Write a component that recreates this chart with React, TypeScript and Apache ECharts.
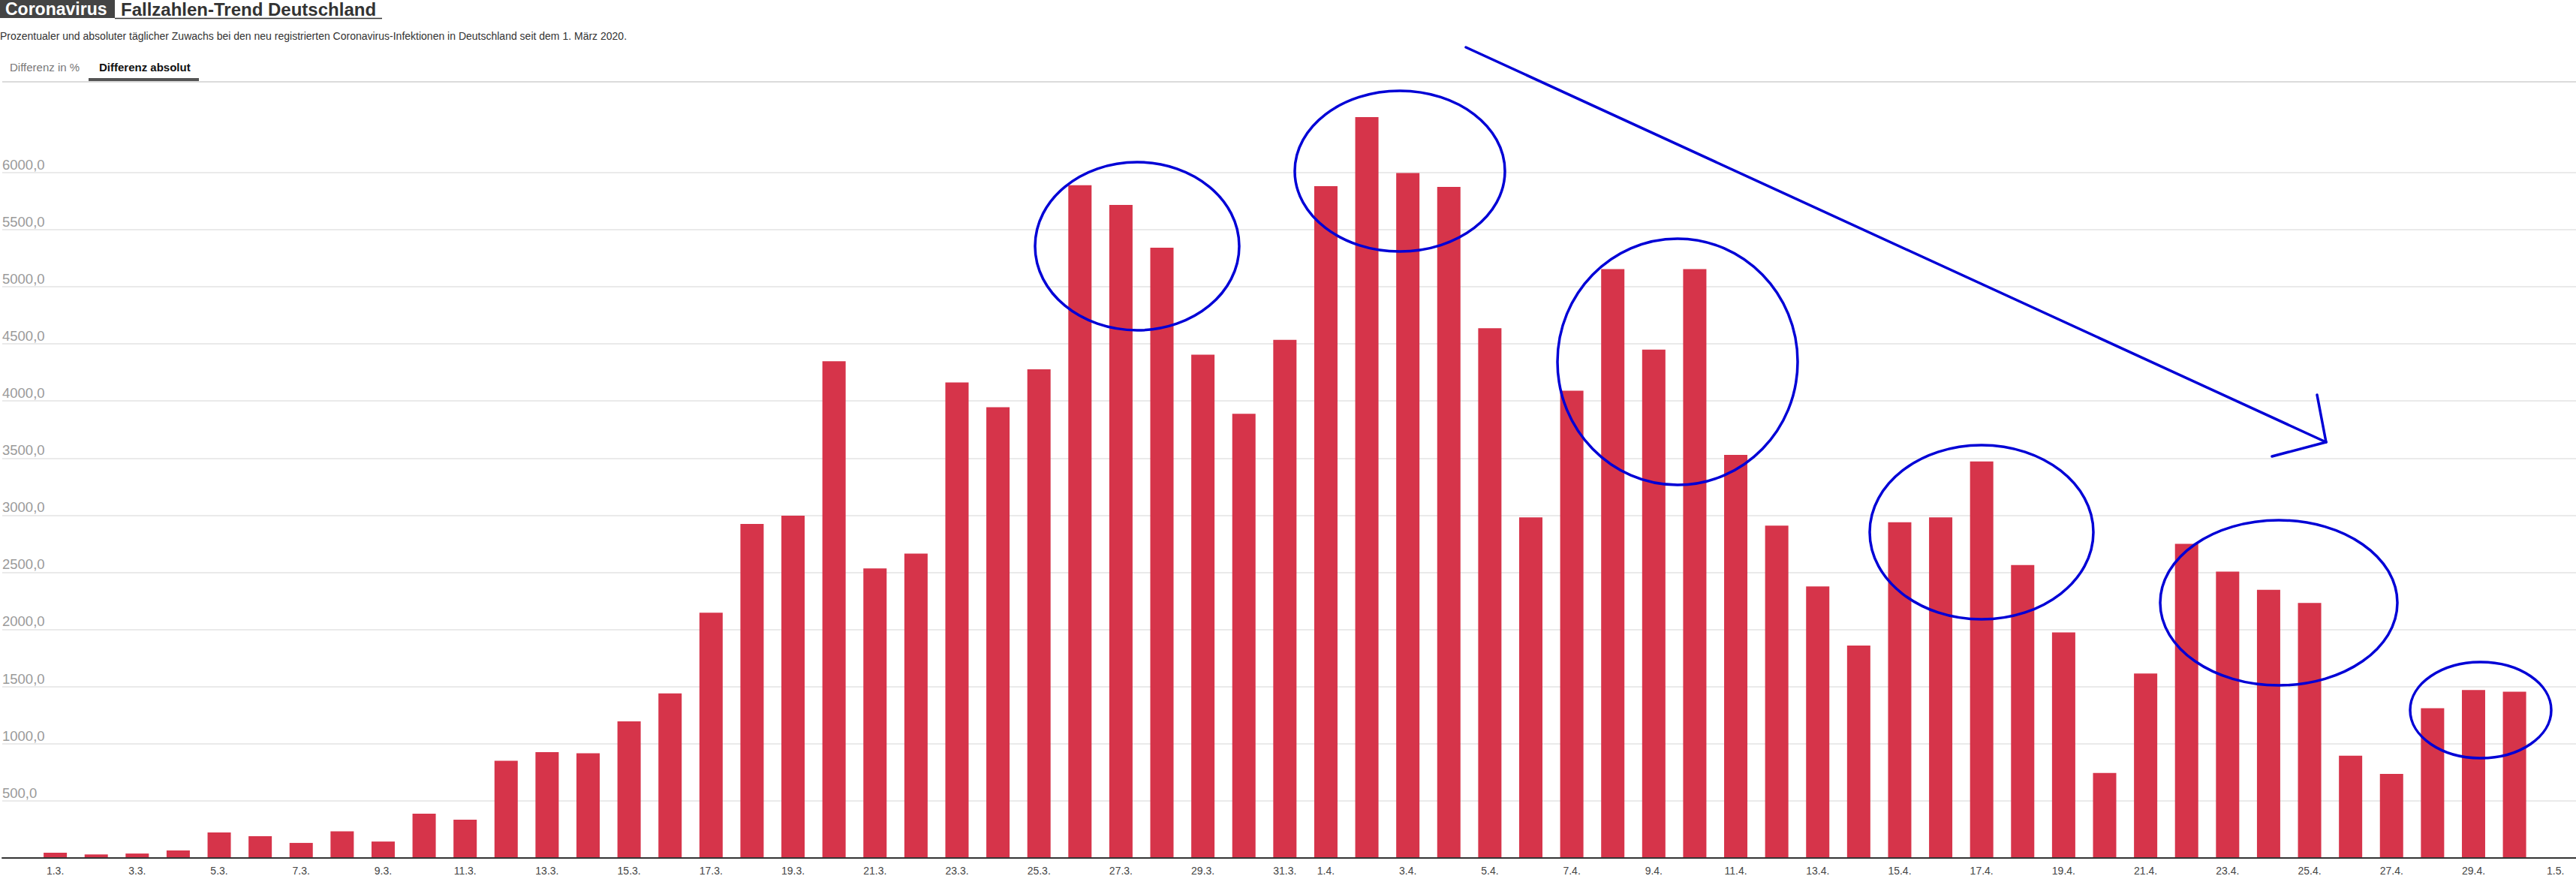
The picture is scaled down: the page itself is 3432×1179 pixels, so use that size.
import React, { useEffect, useRef } from "react";
import * as echarts from "echarts";

const categories = [
  "1.3.", "2.3.", "3.3.", "4.3.", "5.3.", "6.3.", "7.3.", "8.3.", "9.3.", "10.3.",
  "11.3.", "12.3.", "13.3.", "14.3.", "15.3.", "16.3.", "17.3.", "18.3.", "19.3.", "20.3.",
  "21.3.", "22.3.", "23.3.", "24.3.", "25.3.", "26.3.", "27.3.", "28.3.", "29.3.", "30.3.", "31.3.",
  "1.4.", "2.4.", "3.4.", "4.4.", "5.4.", "6.4.", "7.4.", "8.4.", "9.4.", "10.4.",
  "11.4.", "12.4.", "13.4.", "14.4.", "15.4.", "16.4.", "17.4.", "18.4.", "19.4.", "20.4.",
  "21.4.", "22.4.", "23.4.", "24.4.", "25.4.", "26.4.", "27.4.", "28.4.", "29.4.", "30.4.",
  "1.5.",
];

const dailyIncrease = [
  44, 29, 37, 64, 222, 189, 130, 232, 142, 386,
  333, 850, 925, 915, 1195, 1440, 2146, 2923, 2995, 4349,
  2534, 2664, 4162, 3946, 4277, 5890, 5717, 5342, 4406, 3888, 4536,
  5882, 6486, 5996, 5875, 4637, 2981, 4090, 5155, 4450, 5155,
  3528, 2909, 2376, 1858, 2938, 2981, 3470, 2563, 1973, 742,
  1613, 2750, 2506, 2347, 2232, 893, 734, 1310, 1469, 1454,
  null,
];

const yMin = 0;
const yMax = 6800;
const yInterval = 500;
const yLabelMax = 6000;

const titleTag = "Coronavirus";
const titleText = "Fallzahlen-Trend Deutschland";
const subtitleText =
  "Prozentualer und absoluter täglicher Zuwachs bei den neu registrierten Coronavirus-Infektionen in Deutschland seit dem 1. März 2020.";
const tabInactive = "Differenz in %";
const tabActive = "Differenz absolut";

// annotation shapes (pixel positions of the hand-drawn marks)
const ellipses = [
  { cx: 1515, cy: 328, rx: 136, ry: 112 },
  { cx: 1865, cy: 228, rx: 140, ry: 107 },
  { cx: 2235, cy: 482, rx: 160, ry: 164 },
  { cx: 2640, cy: 709, rx: 149, ry: 116 },
  { cx: 3036, cy: 803, rx: 158, ry: 110 },
  { cx: 3305, cy: 946, rx: 94, ry: 64 },
];
const arrowLines = [
  { x1: 1953, y1: 63, x2: 3099, y2: 589 },
  { x1: 3099, y1: 589, x2: 3087, y2: 526 },
  { x1: 3099, y1: 589, x2: 3027, y2: 608 },
];

const W = 3432;
const H = 1179;
const GRID_TOP = 108.3;
const AXIS_Y = 1142.7;
const FONT = '"Liberation Sans", Arial, Helvetica, sans-serif';
const BLUE = "#0000d6";
const BAR = "#d6344a";

export default function App() {
  const ref = useRef<HTMLDivElement>(null);

  useEffect(() => {
    if (!ref.current) return;
    const chart = echarts.init(ref.current, undefined, { renderer: "svg" });

    const tickCount = Math.floor((yMax - yMin) / yInterval) + 1;
    const splitColors: string[] = [];
    for (let i = 0; i < tickCount; i++) {
      const v = yMin + i * yInterval;
      splitColors.push(v > 0 && v <= yLabelMax ? "#e3e3e3" : "rgba(0,0,0,0)");
    }
    splitColors.push("#cfcfcf"); // max line = border under tabs

    const graphic: any[] = [
      { type: "rect", shape: { x: 0, y: 0, width: 153, height: 24 }, style: { fill: "#444" }, z: 100 },
      {
        type: "text", x: 7, y: 12, z: 101,
        style: { text: titleTag, fill: "#fff", fontSize: 23, fontWeight: "bold", fontFamily: FONT, verticalAlign: "middle" },
      },
      {
        type: "text", x: 161, y: 12, z: 101,
        style: { text: titleText, fill: "#333", fontSize: 24, fontWeight: "bold", fontFamily: FONT, verticalAlign: "middle" },
      },
      { type: "line", shape: { x1: 153, y1: 24.5, x2: 509, y2: 24.5 }, style: { stroke: "#333", lineWidth: 1.5 }, z: 100 },
      {
        type: "text", x: 0, y: 48, z: 101,
        style: { text: subtitleText, fill: "#333", fontSize: 14, fontFamily: FONT, verticalAlign: "middle" },
      },
      {
        type: "text", x: 13, y: 89, z: 101,
        style: { text: tabInactive, fill: "#777", fontSize: 15, fontFamily: FONT, verticalAlign: "middle" },
      },
      {
        type: "text", x: 132, y: 89, z: 101,
        style: { text: tabActive, fill: "#111", fontSize: 15, fontWeight: "bold", fontFamily: FONT, verticalAlign: "middle" },
      },
      { type: "rect", shape: { x: 118, y: 104, width: 147, height: 4 }, style: { fill: "#555" }, z: 100 },
    ];
    ellipses.forEach((e) => {
      graphic.push({
        type: "ellipse", shape: e, z: 100,
        style: { fill: "none", stroke: BLUE, lineWidth: 3.5 },
      });
    });
    arrowLines.forEach((l) => {
      graphic.push({
        type: "line", shape: l, z: 100,
        style: { stroke: BLUE, lineWidth: 3.5, lineCap: "round" },
      });
    });

    const option: any = {
      animation: false,
      grid: [
        { left: 0, right: 0, top: GRID_TOP, bottom: H - AXIS_Y },
        { left: 46.3, width: 3393.3, top: GRID_TOP, bottom: H - AXIS_Y },
      ],
      xAxis: [
        {
          gridIndex: 0, type: "value", min: 0, max: 1, z: 5,
          axisLine: { show: true, onZero: false, lineStyle: { color: "#333", width: 2 } },
          axisTick: { show: false }, axisLabel: { show: false }, splitLine: { show: false },
        },
        {
          gridIndex: 1, type: "category", data: categories,
          axisLine: { show: false }, axisTick: { show: false },
          axisLabel: {
            interval: (index: number, value: string) => parseInt(value, 10) % 2 === 1,
            color: "#444", fontSize: 14, fontFamily: FONT, margin: 10,
          },
        },
      ],
      yAxis: [
        {
          gridIndex: 0, type: "value", min: yMin, max: yMax, interval: yInterval,
          axisLine: { show: false }, axisTick: { show: false },
          axisLabel: {
            inside: true, margin: 0, align: "left", verticalAlign: "bottom",
            color: "#9a9a9a", fontSize: 18.5, fontFamily: FONT, padding: [0, 0, 1, 0],
            formatter: (v: number) => (v > 0 && v <= yLabelMax ? v.toFixed(1).replace(".", ",") : ""),
          },
          splitLine: { show: true, lineStyle: { color: splitColors, width: 1.5 } },
        },
        { gridIndex: 1, type: "value", min: yMin, max: yMax, show: false },
      ],
      series: [
        {
          type: "bar", xAxisIndex: 1, yAxisIndex: 1, data: dailyIncrease,
          barWidth: 31, itemStyle: { color: BAR },
        },
      ],
      graphic,
    };

    chart.setOption(option);
    return () => chart.dispose();
  }, []);

  return (
    <div
      ref={ref}
      style={{ position: "absolute", left: 0, top: 0, width: W, height: H, background: "#fff" }}
    />
  );
}
